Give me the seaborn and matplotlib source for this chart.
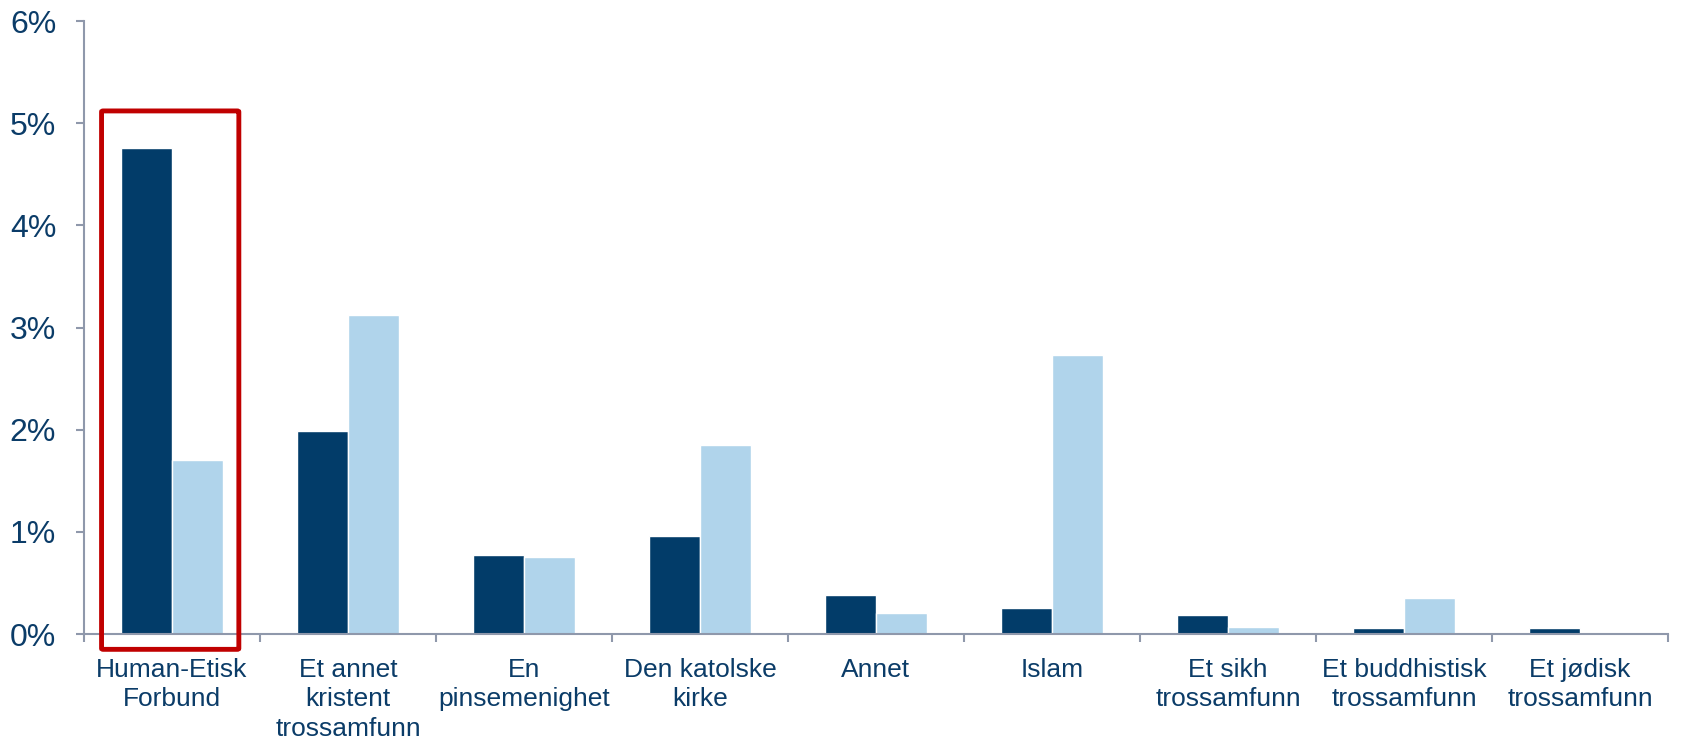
import pandas as pd
import matplotlib.pyplot as plt
import seaborn as sns
from matplotlib.patches import FancyBboxPatch
from matplotlib.ticker import FixedLocator, FuncFormatter

# Chart data (shares in percent)
categories = ['Human-Etisk\nForbund', 'Et annet\nkristent\ntrossamfunn', 'En\npinsemenighet',
              'Den katolske\nkirke', 'Annet', 'Islam', 'Et sikh\ntrossamfunn',
              'Et buddhistisk\ntrossamfunn', 'Et jødisk\ntrossamfunn']
series_a = [4.76, 1.99, 0.77, 0.96, 0.38, 0.25, 0.19, 0.06, 0.06]
series_b = [1.70, 3.12, 0.75, 1.85, 0.21, 2.73, 0.065, 0.35, 0.01]
series_names = ['Serie 1', 'Serie 2']

df = pd.DataFrame({
    'kategori': categories * 2,
    'andel': series_a + series_b,
    'serie': [series_names[0]] * len(categories) + [series_names[1]] * len(categories),
})

text_color = '#0b3c68'
axis_color = '#8f98ab'

sns.set_style('white')
plt.rcParams['font.family'] = ['Liberation Sans', 'DejaVu Sans']

fig = plt.figure(figsize=(16.96, 7.38), dpi=100)
ax = fig.add_axes([0.0495, 0.1409, 0.934, 0.8306])

sns.barplot(data=df, x='kategori', y='andel', hue='serie', order=categories,
            palette=['#023c69', '#b0d4eb'], width=0.58, gap=0, saturation=1,
            legend=False, ax=ax)

ax.set_ylim(0, 6)
ax.set_xlim(-0.5, len(categories) - 0.5)
ax.set_xlabel('')
ax.set_ylabel('')

# spines
for side in ['top', 'right']:
    ax.spines[side].set_visible(False)
for side in ['left', 'bottom']:
    ax.spines[side].set_color(axis_color)
    ax.spines[side].set_linewidth(1.5)

# y ticks as percentages
ax.set_yticks(range(0, 7))
ax.yaxis.set_major_formatter(FuncFormatter(lambda v, p: f'{v:.0f}%'))
ax.tick_params(axis='y', direction='out', length=6, width=1.5, color=axis_color,
               labelsize=23, labelcolor=text_color, pad=14, left=True)

# x labels at centers, tick marks at group borders
ax.set_xticks(range(len(categories)))
ax.set_xticklabels(categories, linespacing=1.3)
ax.tick_params(axis='x', which='major', length=0, labelsize=19,
               labelcolor=text_color, pad=17)
ax.xaxis.set_minor_locator(FixedLocator([i - 0.5 for i in range(len(categories) + 1)]))
ax.tick_params(axis='x', which='minor', direction='out', length=6, width=1.5,
               color=axis_color, bottom=True)

# red highlight box around the first group
box = FancyBboxPatch((-0.40, -0.15), 0.78, 5.27, boxstyle='round,pad=0,rounding_size=0.01',
                     fill=False, edgecolor='#c00000', linewidth=3.5, clip_on=False, zorder=5)
ax.add_patch(box)

fig.savefig('out.png', dpi=100)
